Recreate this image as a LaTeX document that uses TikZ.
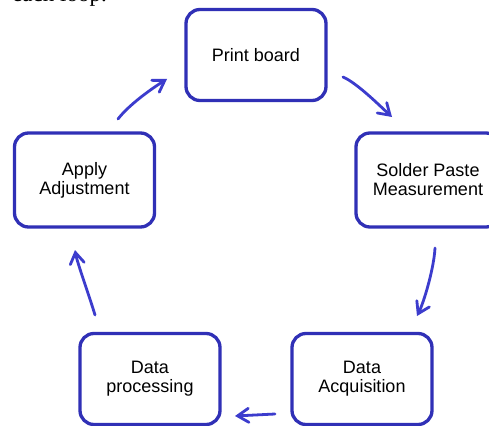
\documentclass[tikz,border=0pt]{standalone}
\usepackage{fontspec}
\setmainfont{Liberation Sans}
\newfontfamily\serifpage{Liberation Serif}
\usetikzlibrary{arrows.meta}
\definecolor{boxblue}{RGB}{48,48,182}
\definecolor{arrowblue}{RGB}{60,60,205}
\begin{document}
\begin{tikzpicture}[x=1pt,y=-1pt,
  stepbox/.style={draw=boxblue, line width=3.3pt, rounded corners=14pt,
    minimum width=140pt, minimum height=91pt, align=center, inner sep=2pt,
    font=\fontsize{18}{19}\selectfont},
  flow/.style={draw=arrowblue, line width=2.8pt, line cap=round,
    -{Straight Barb[length=11pt,width=14pt,line cap=round]}}
]
\useasboundingbox (0,0) rectangle (489,425);
\fill[white] (0,0) rectangle (489,425);
\begin{scope}
  \clip (0,0) rectangle (489,425);
  \node[anchor=base east, inner sep=0pt, font=\serifpage\fontsize{23}{26}\selectfont] (pagetext) at (107,2) {each loop.};
  \node[stepbox] (print) at (256,55) {Print board};
  \node[stepbox, minimum height=94pt] (apply) at (84.5,180) {Apply\\Adjustment};
  \node[stepbox, minimum height=94pt, minimum width=144pt] (solder) at (428,180) {Solder Paste\\Measurement};
  \node[stepbox] (proc) at (150,379) {Data\\processing};
  \node[stepbox] (acq) at (362,379) {Data\\Acquisition};
\end{scope}
\coordinate (a1s) at (118,119); \coordinate (a1e) at (167,79);
\coordinate (a2s) at (343,77);  \coordinate (a2e) at (392,117);
\coordinate (a3s) at (435,248); \coordinate (a3e) at (417,316);
\coordinate (a4s) at (275,414); \coordinate (a4e) at (235,416);
\coordinate (a5s) at (95,315);  \coordinate (a5e) at (75,250);
\draw[flow] (a1s) .. controls (128,106) and (148,91) .. (a1e);
\draw[flow] (a2s) .. controls (357,83) and (380,106) .. (a2e);
\draw[flow] (a3s) .. controls (434,268) and (424,302) .. (a3e);
\draw[flow] (a4s) -- (a4e);
\draw[flow] (a5s) .. controls (89,295) and (77,262) .. (a5e);
\end{tikzpicture}
\end{document}
